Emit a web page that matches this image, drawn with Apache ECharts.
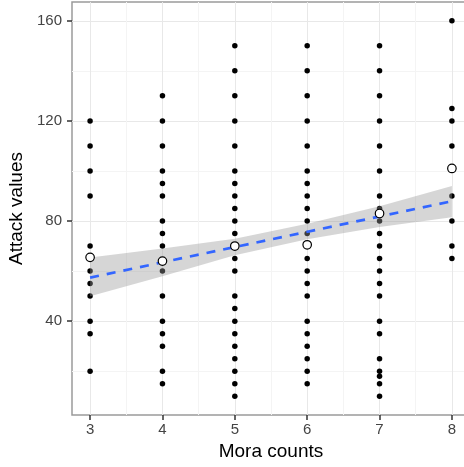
<!DOCTYPE html>
<html>
<head>
<meta charset="utf-8">
<script src="https://cdn.jsdelivr.net/npm/echarts@6/dist/echarts.min.js"></script>
<style>
  html, body { margin: 0; padding: 0; background: #fff; }
  #chart { width: 464px; height: 467px; }
</style>
</head>
<body>
<div id="chart"></div>
<script>
// attack values for each mora count
const moraCounts = [3, 4, 5, 6, 7, 8];
const attack3 = [120, 110, 100, 90, 70, 60, 55, 50, 40, 35, 20];
const attack4 = [130, 120, 110, 100, 95, 90, 80, 75, 70, 60, 50, 40, 35, 30, 20, 15];
const attack5 = [150, 140, 130, 120, 110, 100, 95, 90, 85, 80, 75, 70, 65, 60, 50, 45, 40, 35, 30, 25, 20, 15, 10];
const attack6 = [150, 140, 130, 120, 110, 100, 95, 90, 85, 80, 75, 65, 60, 55, 50, 40, 35, 30, 25, 20, 15];
const attack7 = [150, 140, 130, 120, 110, 100, 90, 85, 80, 75, 70, 65, 60, 55, 50, 40, 35, 25, 20, 18, 15, 10];
const attack8 = [160, 125, 120, 110, 90, 80, 70, 65];

// group means (open circles)
const meanAttack = [65.5, 64, 70, 70.5, 83, 101];

// linear fit and its confidence band
const fitX = [3, 8];
const fitY = [57.4, 87.9];
const bandX = [3, 4, 5, 6, 7, 8];
const bandUpper = [65.4, 69, 72.9, 78.9, 85.9, 94];
const bandLower = [49.9, 57.9, 66.3, 72.7, 77.6, 81.5];

const xTicks = [3, 4, 5, 6, 7, 8];
const yTicks = [40, 80, 120, 160];

const groups = [attack3, attack4, attack5, attack6, attack7, attack8];
let points = [];
groups.forEach((vals, i) => {
  vals.forEach(v => points.push([moraCounts[i], v]));
});

const majorCol = '#e8e8e8';
const minorCol = '#f4f4f4';
const none = 'rgba(0,0,0,0)';
// helper axes step 0.25 (x) and 2.5 (y); colour cycle picks out major/minor lines
const xLineCols = [none, majorCol, none, minorCol];
let yLineCols = [];
for (let i = 0; i < 16; i++) yLineCols.push(i === 7 ? minorCol : (i === 15 ? majorCol : none));

const font = '"Liberation Sans", Arial, sans-serif';

const chart = echarts.init(document.getElementById('chart'));
chart.setOption({
  animation: false,
  backgroundColor: '#fff',
  grid: {
    left: 72, top: 2, right: -6, bottom: 52,
    show: true, borderColor: '#9a9a9a', borderWidth: 1.5,
    containLabel: false, outerBoundsMode: 'none'
  },
  xAxis: [
    {
      type: 'value', min: 2.75, max: 8.25,
      name: 'Mora counts', nameLocation: 'middle', nameGap: 26,
      nameTextStyle: { fontSize: 19, color: '#000', fontFamily: font },
      axisLine: { show: false },
      axisTick: { show: true, customValues: xTicks, length: 5, lineStyle: { color: '#333', width: 1.5 } },
      axisLabel: { customValues: xTicks, fontSize: 15, color: '#444', margin: 7, fontFamily: font },
      splitLine: { show: false }
    },
    {
      type: 'value', min: 2.75, max: 8.25, interval: 0.25, position: 'bottom',
      axisLine: { show: false }, axisTick: { show: false }, axisLabel: { show: false },
      splitLine: { show: true, lineStyle: { color: xLineCols, width: 1 } }
    }
  ],
  yAxis: [
    {
      type: 'value', min: 2.5, max: 167.5,
      name: 'Attack values', nameLocation: 'middle', nameGap: 38,
      nameTextStyle: { fontSize: 19, color: '#000', fontFamily: font },
      axisLine: { show: false },
      axisTick: { show: true, customValues: yTicks, length: 5, lineStyle: { color: '#333', width: 1.5 } },
      axisLabel: { customValues: yTicks, fontSize: 15, color: '#444', margin: 10, fontFamily: font },
      splitLine: { show: false }
    },
    {
      type: 'value', min: 2.5, max: 167.5, interval: 2.5, position: 'left',
      axisLine: { show: false }, axisTick: { show: false }, axisLabel: { show: false },
      splitLine: { show: true, lineStyle: { color: yLineCols, width: 1 } }
    }
  ],
  series: [
    {
      type: 'scatter', data: points, symbolSize: 5.5, z: 2,
      itemStyle: { color: '#000', opacity: 1 }
    },
    {
      type: 'custom', z: 3, clip: false,
      data: [[bandX[0], bandUpper[0]]],
      renderItem: (params, api) => {
        let pts = bandX.map((x, i) => api.coord([x, bandUpper[i]]));
        for (let i = bandX.length - 1; i >= 0; i--) pts.push(api.coord([bandX[i], bandLower[i]]));
        return { type: 'polygon', shape: { points: pts }, style: { fill: 'rgba(153,153,153,0.4)' } };
      }
    },
    {
      type: 'line', z: 4, showSymbol: false, silent: true,
      data: fitX.map((x, i) => [x, fitY[i]]),
      lineStyle: { color: '#3366FF', width: 2.7, type: [9, 8] }
    },
    {
      type: 'scatter', z: 5, symbolSize: 8.5,
      data: moraCounts.map((x, i) => [x, meanAttack[i]]),
      itemStyle: { color: '#fff', borderColor: '#000', borderWidth: 1.2, opacity: 1 }
    }
  ]
});
</script>
</body>
</html>
